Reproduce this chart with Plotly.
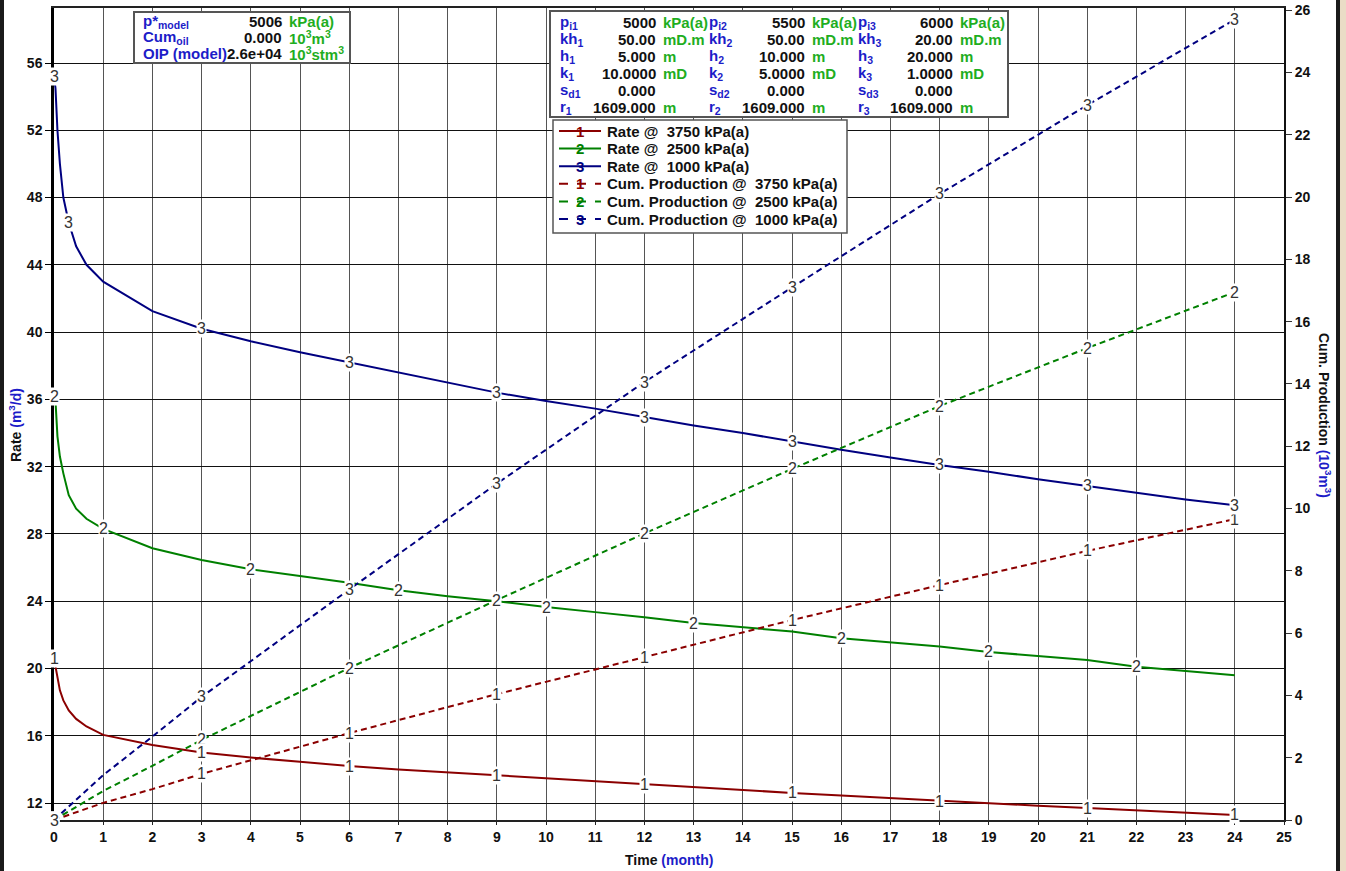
import plotly.graph_objects as go

# ---------------- data ----------------
rate_time = [0, 0.03, 0.07, 0.12, 0.19, 0.3, 0.45, 0.66, 1, 2, 3, 4, 5, 6, 7, 8, 9, 10, 11, 12,
             13, 14, 15, 16, 17, 18, 19, 20, 21, 22, 23, 24]
rate_1 = [20.6, 20.1, 19.3, 18.7, 18.1, 17.5, 17.0, 16.55, 16.05, 15.45, 15.0, 14.7, 14.45, 14.2,
          14.0, 13.82, 13.66, 13.48, 13.3, 13.13, 12.95, 12.78, 12.6, 12.44, 12.28, 12.12, 11.98,
          11.84, 11.7, 11.56, 11.42, 11.29]
rate_2 = [36.15, 35.9, 33.8, 32.6, 31.6, 30.3, 29.5, 28.9, 28.3, 27.15, 26.45, 25.9, 25.5, 25.1,
          24.65, 24.3, 24.0, 23.65, 23.35, 23.05, 22.7, 22.45, 22.2, 21.8, 21.55, 21.3, 20.98,
          20.75, 20.5, 20.1, 19.85, 19.6]
rate_3 = [55.2, 54.5, 52.0, 50.0, 48.0, 46.5, 45.1, 44.0, 43.0, 41.25, 40.2, 39.45, 38.8, 38.2,
          37.6, 37.0, 36.4, 35.9, 35.45, 34.95, 34.45, 34.0, 33.5, 33.0, 32.55, 32.1, 31.7,
          31.25, 30.85, 30.45, 30.05, 29.7]

cum_time = [0, 1, 2, 3, 6, 9, 12, 15, 18, 21, 24]
cum_1 = [0, 0.55, 0.99, 1.48, 2.79, 4.04, 5.23, 6.42, 7.54, 8.64, 9.66]
cum_2 = [0, 0.93, 1.74, 2.57, 4.88, 7.06, 9.2, 11.27, 13.29, 15.15, 16.95]
cum_3 = [0, 1.44, 2.68, 3.95, 7.4, 10.8, 14.06, 17.1, 20.1, 22.95, 25.7]

# indices into the series where the curve numbers are written
rate_1_marks = [0, 10, 13, 16, 19, 22, 25, 28, 31]
rate_2_marks = [0, 8, 11, 14, 17, 20, 23, 26, 29]
rate_3_marks = [0, 5, 10, 13, 16, 19, 22, 25, 28, 31]
cum_marks = [0, 3, 4, 5, 6, 7, 8, 9, 10]

legend_labels = ["Rate @\u00a0 3750 kPa(a)", "Rate @\u00a0 2500 kPa(a)", "Rate @\u00a0 1000 kPa(a)",
                 "Cum. Production @\u00a0 3750 kPa(a)", "Cum. Production @\u00a0 2500 kPa(a)",
                 "Cum. Production @\u00a0 1000 kPa(a)"]

model_names = ["p*<sub>model</sub>", "Cum<sub>oil</sub>", "OIP (model)"]
model_values = ["5006", "0.000", "2.6e+04"]
model_units = ["kPa(a)", "10<sup>3</sup>m<sup>3</sup>", "10<sup>3</sup>stm<sup>3</sup>"]

layer_names = [["p<sub>i1</sub>", "kh<sub>1</sub>", "h<sub>1</sub>", "k<sub>1</sub>", "s<sub>d1</sub>", "r<sub>1</sub>"],
               ["p<sub>i2</sub>", "kh<sub>2</sub>", "h<sub>2</sub>", "k<sub>2</sub>", "s<sub>d2</sub>", "r<sub>2</sub>"],
               ["p<sub>i3</sub>", "kh<sub>3</sub>", "h<sub>3</sub>", "k<sub>3</sub>", "s<sub>d3</sub>", "r<sub>3</sub>"]]
layer_values = [["5000", "50.00", "5.000", "10.0000", "0.000", "1609.000"],
                ["5500", "50.00", "10.000", "5.0000", "0.000", "1609.000"],
                ["6000", "20.00", "20.000", "1.0000", "0.000", "1609.000"]]
layer_units = ["kPa(a)", "mD.m", "m", "mD", "", "m"]

# ---------------- styling ----------------
RED = "#8b0000"
GREEN = "#008000"
NAVY = "#000080"
BLUE_TXT = "#1c1cc8"
GREEN_TXT = "#1fae1f"
FONT = "Liberation Sans, Arial, sans-serif"
BOX_FS = 15

L, R, T, B = 54, 1284, 8, 820   # plot-area pixel frame


def px(xp):
    return (xp - L) / (R - L)


def py(yp):
    return (B - yp) / (B - T)


fig = go.Figure()

series = [
    (rate_time, rate_1, "y", "solid", RED),
    (rate_time, rate_2, "y", "solid", GREEN),
    (rate_time, rate_3, "y", "solid", NAVY),
    (cum_time, cum_1, "y2", "6px,4px", RED),
    (cum_time, cum_2, "y2", "6px,4px", GREEN),
    (cum_time, cum_3, "y2", "6px,4px", NAVY),
]
for (xs, ys, ax, dash, col), name in zip(series, legend_labels):
    fig.add_trace(go.Scatter(x=xs, y=ys, yaxis=ax, mode="lines", name=name,
                             line=dict(color=col, width=2, dash=dash), showlegend=False))

annotations = []


def curve_marks(xs, ys, idx, label, yref):
    """Write the curve number on the line at the chosen sample indices."""
    for i in idx:
        annotations.append(dict(x=xs[i], y=ys[i], xref="x", yref=yref, text=label,
                                xanchor="center", yanchor="middle",
                                showarrow=False, bgcolor="white", borderpad=0,
                                font=dict(family=FONT, size=16, color="#333333")))


curve_marks(cum_time, cum_1, cum_marks, "1", "y2")
curve_marks(cum_time, cum_2, cum_marks, "2", "y2")
curve_marks(cum_time, cum_3, cum_marks, "3", "y2")
curve_marks(rate_time, rate_1, rate_1_marks, "1", "y")
curve_marks(rate_time, rate_2, rate_2_marks, "2", "y")
curve_marks(rate_time, rate_3, rate_3_marks, "3", "y")

shapes = []


def cell(x, y, text, color, anchor, size=BOX_FS):
    annotations.append(dict(x=px(x), y=py(y), xref="paper", yref="paper", text="<b>%s</b>" % text,
                            xanchor=anchor, yanchor="middle", showarrow=False,
                            font=dict(family=FONT, size=size, color=color)))


# ---- model summary box ----
shapes.append(dict(type="rect", xref="paper", yref="paper", x0=px(134), x1=px(350), y0=py(12), y1=py(63),
                   line=dict(color="#555555", width=2), fillcolor="white", layer="above"))
for r, (n, v, u) in enumerate(zip(model_names, model_values, model_units)):
    yy = 21 + r * 16.5
    cell(141, yy, n, BLUE_TXT, "left")
    cell(284, yy, v, "#111111", "right")
    cell(287, yy, u, GREEN_TXT, "left")

# ---- layer parameter box ----
shapes.append(dict(type="rect", xref="paper", yref="paper", x0=px(550), x1=px(1008), y0=py(11), y1=py(117),
                   line=dict(color="#555555", width=2), fillcolor="white", layer="above"))
col_name_x = [558, 707, 856]
col_val_x = [658, 807, 955]
for c in range(3):
    for r in range(6):
        yy = 22 + r * 17
        cell(col_name_x[c], yy, layer_names[c][r], BLUE_TXT, "left")
        cell(col_val_x[c], yy, layer_values[c][r], "#111111", "right")
        if layer_units[r]:
            cell(col_val_x[c] + 3, yy, layer_units[r], GREEN_TXT, "left")

# ---- legend ----
shapes.append(dict(type="rect", xref="paper", yref="paper", x0=px(553), x1=px(847), y0=py(120), y1=py(233),
                   line=dict(color="#555555", width=1.5), fillcolor="white", layer="above"))
leg_cols = [RED, GREEN, NAVY, RED, GREEN, NAVY]
leg_nums = ["1", "2", "3", "1", "2", "3"]
for i, (lab, col, num) in enumerate(zip(legend_labels, leg_cols, leg_nums)):
    yy = 131 + i * 17.6
    dash = "solid" if i < 3 else "dash"
    shapes.append(dict(type="line", xref="paper", yref="paper", x0=px(559), x1=px(601), y0=py(yy), y1=py(yy),
                       line=dict(color=col, width=2, dash=dash), layer="above"))
    cell(580, yy, num, col, "center")
    cell(605, yy, lab, "#111111", "left")

# ---- axis titles ----
annotations.append(dict(x=px(669), y=py(860), xref="paper", yref="paper", showarrow=False,
                        xanchor="center", yanchor="middle",
                        text="<b>Time <span style='color:%s'>(month)</span></b>" % BLUE_TXT,
                        font=dict(family=FONT, size=14, color="#111111")))
annotations.append(dict(x=px(15), y=py(425), xref="paper", yref="paper", showarrow=False, textangle=-90,
                        xanchor="center", yanchor="middle",
                        text="<b>Rate <span style='color:%s'>(m<sup>3</sup>/d)</span></b>" % BLUE_TXT,
                        font=dict(family=FONT, size=14, color="#111111")))
annotations.append(dict(x=px(1325), y=py(415), xref="paper", yref="paper", showarrow=False, textangle=90,
                        xanchor="center", yanchor="middle",
                        text="<b>Cum. Production <span style='color:%s'>(10<sup>3</sup>m<sup>3</sup>)</span></b>" % BLUE_TXT,
                        font=dict(family=FONT, size=14, color="#111111")))

# ---- page frame ----
shapes.append(dict(type="rect", xref="paper", yref="paper", x0=px(0), x1=px(4), y0=py(871), y1=py(0),
                   line=dict(width=0), fillcolor="#1a1a1a", layer="above"))
shapes.append(dict(type="rect", xref="paper", yref="paper", x0=px(1336), x1=px(1340), y0=py(871), y1=py(0),
                   line=dict(width=0), fillcolor="#1a1a1a", layer="above"))
shapes.append(dict(type="rect", xref="paper", yref="paper", x0=px(1340), x1=px(1346), y0=py(871), y1=py(0),
                   line=dict(width=0), fillcolor="#eadcc6", layer="above"))

tickfont = dict(family=FONT, size=14, color="#111111", weight="bold")

fig.update_layout(
    width=1346, height=871,
    margin=dict(l=L, r=1346 - R, t=T, b=871 - B, autoexpand=False),
    paper_bgcolor="white", plot_bgcolor="white",
    showlegend=False,
    xaxis=dict(range=[0, 25], dtick=1, tick0=0, showgrid=True, gridcolor="#555555", gridwidth=1,
               showline=True, linecolor="#222222", linewidth=2, mirror=True,
               ticks="outside", ticklen=3, tickcolor="#222222", tickfont=tickfont, zeroline=False),
    yaxis=dict(range=[10.99, 59.27], dtick=4, tick0=0, showgrid=True, gridcolor="#111111", gridwidth=1,
               showline=True, linecolor="#000000", linewidth=2.5, ticks="outside", ticklen=6,
               tickcolor="#000000", tickfont=tickfont, zeroline=False),
    yaxis2=dict(range=[0, 26.07], dtick=2, tick0=0, overlaying="y", side="right", showgrid=False,
                showline=True, linecolor="#111111", linewidth=2, ticks="outside", ticklen=6,
                tickcolor="#333333", tickfont=tickfont, zeroline=False),
    yaxis3=dict(range=[0, 26.07], dtick=2, tick0=0, overlaying="y", side="right", showgrid=False,
                showline=False, ticks="inside", ticklen=5, tickcolor="#555555", showticklabels=False,
                zeroline=False),
    shapes=shapes,
    annotations=annotations,
)

fig.write_html("out.html")
